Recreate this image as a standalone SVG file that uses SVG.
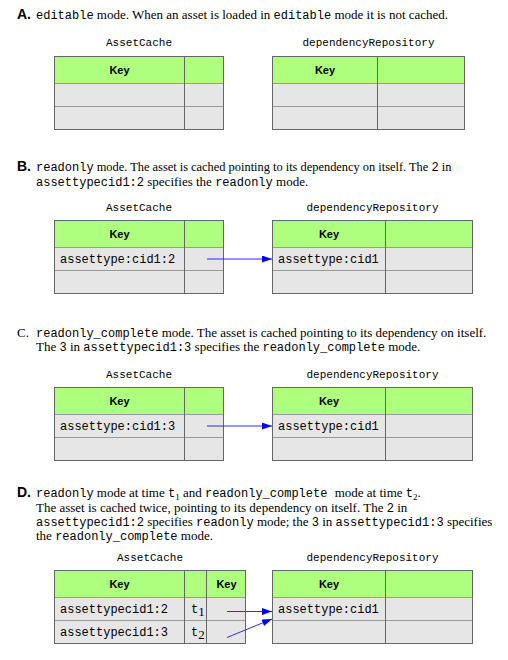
<svg xmlns="http://www.w3.org/2000/svg" width="508" height="660" viewBox="0 0 508 660">
<style>
.t{font-family:"Liberation Serif",serif;font-size:13px;fill:#000}
.c{font-family:"Liberation Mono",monospace;font-size:12px}
.h{font-family:"Liberation Sans",Arial,sans-serif;font-size:14px;font-weight:bold}
.lbl{font-family:"Liberation Mono",monospace;font-size:11px;fill:#000;text-anchor:middle}
.key{font-family:"Liberation Sans",Arial,sans-serif;font-size:11px;font-weight:bold;fill:#000;text-anchor:middle}
.cell{font-family:"Liberation Mono",monospace;font-size:12px;fill:#000}
.hdr{fill:#afff7f}
.row{fill:#e6e6e6}
.hl{stroke:#9a9a9a;stroke-width:1;fill:none}
.vl{stroke:#666;stroke-width:1;fill:none}
.ob{stroke:#666;stroke-width:1;fill:none}
.con{stroke:#2b2bff;stroke-width:1;fill:none;marker-end:url(#ah)}
</style>
<defs>
<marker id="ah" markerUnits="userSpaceOnUse" markerWidth="11" markerHeight="8" refX="10" refY="3.5" orient="auto">
<path d="M0,0 L10,3.5 L0,7 z" fill="#0000ff"/>
</marker>
</defs>
<rect width="508" height="660" fill="#fff"/>

<!-- Section A -->
<text class="t" x="17" y="19"><tspan class="h">A.</tspan><tspan x="36" class="c">editable</tspan> mode. When an asset is loaded in <tspan class="c">editable</tspan> mode it is not cached.</text>
<text class="lbl" x="139" y="46">AssetCache</text>
<text class="lbl" x="368.5" y="46">dependencyRepository</text>
<g id="A-assetcache">
<rect class="hdr" x="54.5" y="56.5" width="169" height="27"/>
<rect class="row" x="54.5" y="83.5" width="169" height="46"/>
<path class="hl" d="M54.5,83.5H223.5M54.5,106.5H223.5"/>
<path class="vl" d="M184.5,56.5V129.5"/>
<rect class="ob" x="54.5" y="56.5" width="169" height="73"/>
<text class="key" x="119.5" y="74">Key</text>
</g>
<g id="A-dependencyRepository">
<rect class="hdr" x="272.5" y="56.5" width="192" height="27"/>
<rect class="row" x="272.5" y="83.5" width="192" height="46"/>
<path class="hl" d="M272.5,83.5H464.5M272.5,106.5H464.5"/>
<path class="vl" d="M377.5,56.5V129.5"/>
<rect class="ob" x="272.5" y="56.5" width="192" height="73"/>
<text class="key" x="325" y="74">Key</text>
</g>

<!-- Section B -->
<text class="t" x="17" y="171" style="font-size:12.4px"><tspan class="h">B.</tspan><tspan x="36" class="c">readonly</tspan> mode. The asset is cached pointing to its dependency on itself. The <tspan class="c">2</tspan> in</text>
<text class="t" x="36" y="186"><tspan class="c">assettypecid1:2</tspan> specifies the <tspan class="c">readonly</tspan> mode.</text>
<text class="lbl" x="139" y="211">AssetCache</text>
<text class="lbl" x="372.5" y="211">dependencyRepository</text>
<g id="B-assetcache">
<rect class="hdr" x="54.5" y="220.5" width="169" height="27"/>
<rect class="row" x="54.5" y="247.5" width="169" height="46"/>
<path class="hl" d="M54.5,247.5H223.5M54.5,270.5H223.5"/>
<path class="vl" d="M184.5,220.5V293.5"/>
<rect class="ob" x="54.5" y="220.5" width="169" height="73"/>
<text class="key" x="119.5" y="238">Key</text>
<text class="cell" x="60" y="263">assettype:cid1:2</text>
</g>
<g id="B-dependencyRepository">
<rect class="hdr" x="272.5" y="220.5" width="200" height="27"/>
<rect class="row" x="272.5" y="247.5" width="200" height="46"/>
<path class="hl" d="M272.5,247.5H472.5M272.5,270.5H472.5"/>
<path class="vl" d="M385.5,220.5V293.5"/>
<rect class="ob" x="272.5" y="220.5" width="200" height="73"/>
<text class="key" x="329" y="238">Key</text>
<text class="cell" x="278" y="263">assettype:cid1</text>
</g>

<!-- Section C -->
<text class="t" x="17" y="337">C.<tspan x="36" class="c">readonly_complete</tspan> mode. The asset is cached pointing to its dependency on itself.</text>
<text class="t" x="36" y="351">The <tspan class="c">3</tspan> in <tspan class="c">assettypecid1:3</tspan> specifies the <tspan class="c">readonly_complete</tspan> mode.</text>
<text class="lbl" x="139" y="378">AssetCache</text>
<text class="lbl" x="372.5" y="378">dependencyRepository</text>
<g id="C-assetcache">
<rect class="hdr" x="54.5" y="387.5" width="169" height="27"/>
<rect class="row" x="54.5" y="414.5" width="169" height="46"/>
<path class="hl" d="M54.5,414.5H223.5M54.5,437.5H223.5"/>
<path class="vl" d="M184.5,387.5V460.5"/>
<rect class="ob" x="54.5" y="387.5" width="169" height="73"/>
<text class="key" x="119.5" y="405">Key</text>
<text class="cell" x="60" y="430">assettype:cid1:3</text>
</g>
<g id="C-dependencyRepository">
<rect class="hdr" x="272.5" y="387.5" width="200" height="27"/>
<rect class="row" x="272.5" y="414.5" width="200" height="46"/>
<path class="hl" d="M272.5,414.5H472.5M272.5,437.5H472.5"/>
<path class="vl" d="M385.5,387.5V460.5"/>
<rect class="ob" x="272.5" y="387.5" width="200" height="73"/>
<text class="key" x="329" y="405">Key</text>
<text class="cell" x="278" y="430">assettype:cid1</text>
</g>

<!-- Section D -->
<text class="t" x="17" y="497"><tspan class="h">D.</tspan><tspan x="36" class="c">readonly</tspan> mode at time <tspan class="c">t</tspan><tspan font-size="9" dy="3">1</tspan><tspan dy="-3"> and </tspan><tspan class="c">readonly_complete</tspan><tspan dx="4"> mode at time </tspan><tspan class="c">t</tspan><tspan font-size="9" dy="3">2</tspan><tspan dy="-3">.</tspan></text>
<text class="t" x="36" y="511.5">The asset is cached twice, pointing to its dependency on itself. The <tspan class="c">2</tspan> in</text>
<text class="t" x="36" y="526"><tspan class="c">assettypecid1:2</tspan> specifies <tspan class="c">readonly</tspan> mode; the <tspan class="c">3</tspan> in <tspan class="c">assettypecid1:3</tspan> specifies</text>
<text class="t" x="36" y="540">the <tspan class="c">readonly_complete</tspan> mode.</text>
<text class="lbl" x="150" y="561">AssetCache</text>
<text class="lbl" x="372.5" y="561">dependencyRepository</text>
<g id="D-assetcache">
<rect class="hdr" x="54.5" y="570.5" width="191" height="27"/>
<rect class="row" x="54.5" y="597.5" width="191" height="46"/>
<path class="hl" d="M54.5,597.5H245.5M54.5,620.5H245.5"/>
<path class="vl" d="M184.5,570.5V643.5M206.5,570.5V643.5"/>
<rect class="ob" x="54.5" y="570.5" width="191" height="73"/>
<text class="key" x="119.5" y="588">Key</text>
<text class="key" x="226.5" y="588">Key</text>
<text class="cell" x="60" y="613">assettypecid1:2</text>
<text class="cell" x="60" y="636">assettypecid1:3</text>
<text class="cell" x="191" y="613">t<tspan class="t" font-size="9" dy="3">1</tspan></text>
<text class="cell" x="191" y="636">t<tspan class="t" font-size="9" dy="3">2</tspan></text>
</g>
<g id="D-dependencyRepository">
<rect class="hdr" x="272.5" y="570.5" width="200" height="27"/>
<rect class="row" x="272.5" y="597.5" width="200" height="46"/>
<path class="hl" d="M272.5,597.5H472.5M272.5,620.5H472.5"/>
<path class="vl" d="M385.5,570.5V643.5"/>
<rect class="ob" x="272.5" y="570.5" width="200" height="73"/>
<text class="key" x="329" y="588">Key</text>
<text class="cell" x="278" y="613">assettype:cid1</text>
</g>

<g id="connectors">
<path class="con" d="M207,259H272"/>
<path class="con" d="M207,426H272"/>
<path class="con" d="M227,611.5H272"/>
<path class="con" d="M227,637.5L272,619"/>
</g>
</svg>
